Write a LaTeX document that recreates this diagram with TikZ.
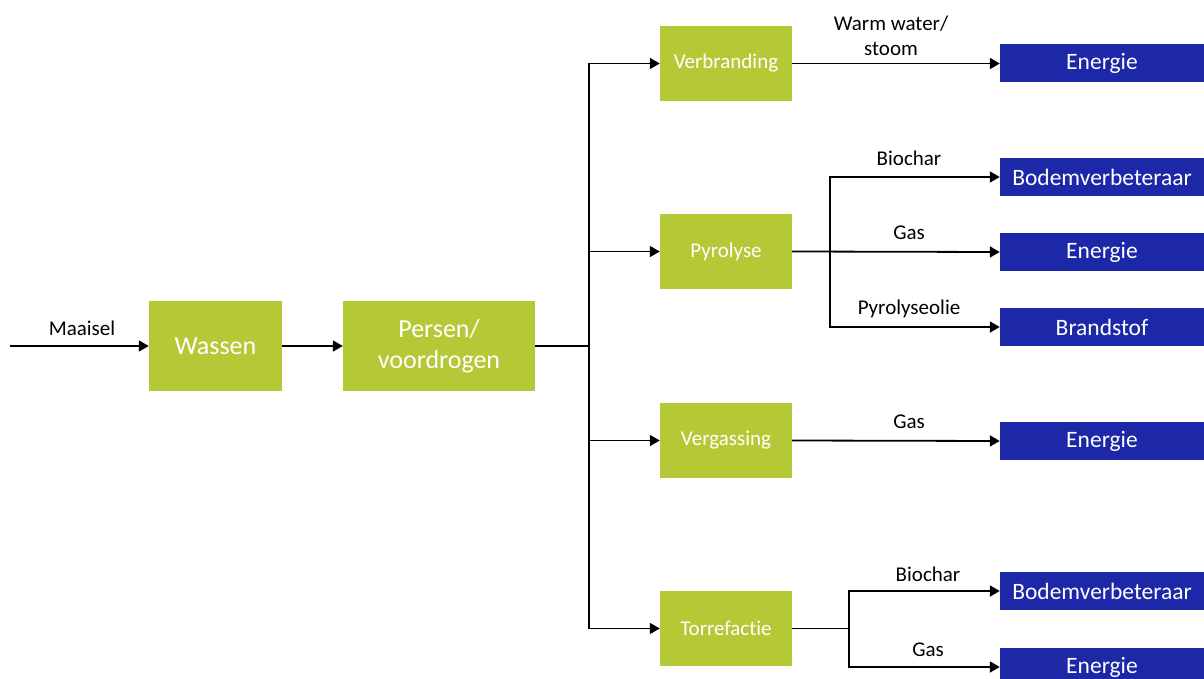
\documentclass[tikz,border=0pt]{standalone}
\usepackage{fontspec}
\setmainfont[Ligatures={NoCommon}]{Carlito}
\usetikzlibrary{arrows.meta}
\definecolor{boxgreen}{RGB}{181,201,55}
\definecolor{boxblue}{RGB}{28,40,168}
\tikzset{
  greenbox/.style={fill=boxgreen, text=white, inner sep=0pt, minimum width=132pt, minimum height=75pt, font=\fontsize{21}{25}\selectfont},
  bigbox/.style={greenbox, font=\fontsize{26}{31}\selectfont, align=center},
  bluebox/.style={fill=boxblue, text=white, inner sep=0pt, minimum width=204pt, minimum height=38pt, font=\fontsize{23.5}{28}\selectfont},
  lbl/.style={inner sep=0pt, font=\fontsize{21}{25}\selectfont, align=center},
  conn/.style={line width=1.8pt},
  arr/.style={conn, -{Triangle[length=10pt,width=11pt]}},
}
\begin{document}
\begin{tikzpicture}[x=1pt,y=-1pt]
\useasboundingbox (0,0) rectangle (1204,679);
\clip (0,0) rectangle (1204,679);
% main nodes
\node[bigbox, minimum width=133pt, minimum height=90pt] (wassen) at (215.5,346) {Wassen};
\node[bigbox, minimum width=192pt, minimum height=90pt] (persen) at (439,346) {Persen/\\voordrogen};
\node[greenbox] (verb) at (726,63.5) {\raisebox{-2pt}{Verbranding}};
\node[greenbox] (pyr) at (726,251.5) {\raisebox{-2pt}{Pyrolyse}};
\node[greenbox] (verg) at (726,440.5) {\raisebox{-2pt}{Vergassing}};
\node[greenbox] (torr) at (726,628.5) {\raisebox{-2pt}{Torrefactie}};
\node[bluebox] (en1) at (1102,63.5) {\raisebox{-2pt}{Energie}};
\node[bluebox] (bod1) at (1102,177) {\raisebox{-2pt}{Bodemverbeteraar}};
\node[bluebox] (en2) at (1102,252) {\raisebox{-2pt}{Energie}};
\node[bluebox] (brand) at (1102,327) {\raisebox{-2pt}{Brandstof}};
\node[bluebox] (en3) at (1102,441) {\raisebox{-2pt}{Energie}};
\node[bluebox] (bod2) at (1102,591) {\raisebox{-2pt}{Bodemverbeteraar}};
\node[bluebox] (en4) at (1102,667) {\raisebox{-2pt}{Energie}};
% coordinates
\coordinate (start) at (10,346);
\coordinate (j1) at (589,346);
\coordinate (j2) at (830,252);
\coordinate (j3) at (849,628.5);
% connectors
\draw[arr] (start) -- (wassen.west);
\draw[arr] (wassen.east) -- (persen.west);
\draw[conn] (persen.east) -- (j1);
\draw[arr] (j1) |- (verb.west);
\draw[arr] (j1) |- (pyr.west);
\draw[arr] (j1) |- (verg.west);
\draw[arr] (j1) |- (torr.west);
\draw[arr] (verb.east) -- (en1.west);
\draw[arr] (pyr.east) -- (en2.west);
\draw[arr] (j2) |- (bod1.west);
\draw[arr] (j2) |- (brand.west);
\draw[arr] (verg.east) -- (en3.west);
\draw[conn] (torr.east) -- (j3);
\draw[arr] (j3) |- (bod2.west);
\draw[arr] (j3) |- (en4.west);
% labels
\node[lbl] (lmaai) at (82,328) {Maaisel};
\node[lbl] (lwarm) at (891,36) {Warm water/\\stoom};
\node[lbl] (lbio1) at (909,158) {Biochar};
\node[lbl] (lgas1) at (909,233) {Gas};
\node[lbl] (lpyro) at (909,309) {Pyrolyseolie};
\node[lbl] (lgas2) at (909,422) {Gas};
\node[lbl] (lbio2) at (928,574) {Biochar};
\node[lbl] (lgas3) at (928,650) {Gas};
\end{tikzpicture}
\end{document}
